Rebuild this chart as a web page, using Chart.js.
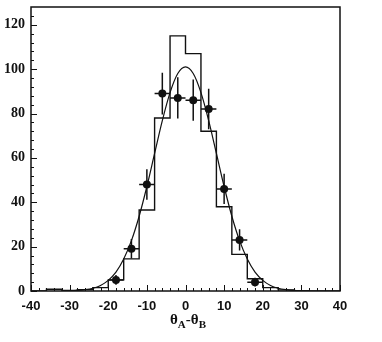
<!DOCTYPE html>
<html>
<head>
<meta charset="utf-8">
<script src="https://cdn.jsdelivr.net/npm/chart.js@4.4.0/dist/chart.umd.min.js"></script>
<style>
html, body { margin: 0; padding: 0; background: #fff; }
#wrap { position: relative; width: 382px; height: 342px; }
#xlabel {
    position: absolute; left: 138px; width: 100px; top: 311px;
    text-align: center; font: bold 15px "Liberation Serif", serif; color: #111;
}
#xlabel sub { font-size: 11px; }
</style>
</head>
<body>
<div id="wrap">
<canvas id="myChart" width="382" height="342"></canvas>
<div id="xlabel">&theta;<sub>A</sub>-&theta;<sub>B</sub></div>
</div>
<script>
// histogram: bin edges and contents
var binEdges = [-40, -36, -32, -28, -24, -20, -16, -12, -8, -4, 0, 4, 8, 12, 16, 20, 24, 28, 32, 36, 40];
var binCounts = [0, 0.8, 0.3, 0.6, 1.5, 5, 14.5, 36.5, 78, 115, 107, 72, 38, 16.5, 5.5, 1.5, 0.5, 0, 0, 0];

// data points with error bars
var dataX = [-18, -14, -10, -6, -2, 2, 6, 10, 14, 18];
var dataY = [5, 19, 48, 89, 87, 86, 82, 46, 23, 4];
var dataXErr = [2, 2, 2, 2, 2, 2, 2, 2, 2, 2];
var dataYErr = [2.2, 4.4, 6.9, 9.4, 9.3, 9.3, 9.1, 6.8, 4.8, 2.0];

// fitted curve
var fitX = [-32, -30, -28, -26, -24, -22, -20, -18, -16, -14, -12, -10, -8, -6, -4, -2, 0,
            2, 4, 6, 8, 10, 12, 14, 16, 18, 20, 22, 24, 26, 28, 30, 32];
var fitY = [0.04, 0.1, 0.26, 0.6, 1.25, 2.5, 4.8, 8.5, 14.4, 22.7, 33.7, 47.1, 62.0, 76.8, 89.4, 98.0, 101,
            98.0, 89.4, 76.8, 62.0, 47.1, 33.7, 22.7, 14.4, 8.5, 4.8, 2.5, 1.25, 0.6, 0.26, 0.1, 0.04];

var xTicks = [-40, -30, -20, -10, 0, 10, 20, 30, 40];
var yTicks = [0, 20, 40, 60, 80, 100, 120];

var ink = "#111";

var histPoints = binEdges.map(function (e, i) {
    return { x: e, y: i < binCounts.length ? binCounts[i] : binCounts[binCounts.length - 1] };
});
var dataPoints = dataX.map(function (x, i) { return { x: x, y: dataY[i] }; });
var fitPoints = fitX.map(function (x, i) { return { x: x, y: fitY[i] }; });

var frameTicks = {
    id: "frameTicks",
    afterDatasetsDraw: function (chart) {
        var ctx = chart.ctx, xs = chart.scales.x, ys = chart.scales.y;
        ctx.save();
        ctx.strokeStyle = ink;
        ctx.lineWidth = 1.5;
        for (var i = 0; i < dataX.length; i++) {
            var px = xs.getPixelForValue(dataX[i]), py = ys.getPixelForValue(dataY[i]);
            ctx.beginPath();
            ctx.moveTo(xs.getPixelForValue(dataX[i] - dataXErr[i]), py);
            ctx.lineTo(xs.getPixelForValue(dataX[i] + dataXErr[i]), py);
            ctx.moveTo(px, ys.getPixelForValue(dataY[i] - dataYErr[i]));
            ctx.lineTo(px, ys.getPixelForValue(dataY[i] + dataYErr[i]));
            ctx.stroke();
        }
        ctx.restore();
    },
    afterDraw: function (chart) {
        var ctx = chart.ctx, a = chart.chartArea, xs = chart.scales.x, ys = chart.scales.y;
        ctx.save();
        ctx.strokeStyle = ink;
        ctx.lineWidth = 1.5;
        ctx.strokeRect(a.left, a.top, a.right - a.left, a.bottom - a.top);
        ctx.lineWidth = 1;
        ctx.beginPath();
        for (var v = -40; v <= 40; v += 2) {
            var px = Math.round(xs.getPixelForValue(v)) + 0.5;
            var len = v % 10 === 0 ? 6 : 3;
            ctx.moveTo(px, a.bottom);
            ctx.lineTo(px, a.bottom - len);
        }
        for (var w = 0; w <= 124; w += 4) {
            var py = Math.round(ys.getPixelForValue(w)) + 0.5;
            var l2 = w % 20 === 0 ? 6 : 3;
            ctx.moveTo(a.left, py);
            ctx.lineTo(a.left + l2, py);
        }
        ctx.stroke();
        ctx.restore();
    }
};

new Chart("myChart", {
    type: "scatter",
    data: {
        datasets: [{
            data: histPoints,
            showLine: true,
            stepped: "before",
            borderColor: ink,
            borderWidth: 1.4,
            pointRadius: 0,
            fill: false
        }, {
            data: fitPoints,
            showLine: true,
            cubicInterpolationMode: "monotone",
            borderColor: ink,
            borderWidth: 1.2,
            pointRadius: 0,
            fill: false
        }, {
            data: dataPoints,
            showLine: false,
            pointRadius: 4,
            pointBackgroundColor: ink,
            pointBorderColor: ink,
            pointBorderWidth: 0
        }]
    },
    options: {
        responsive: false,
        animation: false,
        layout: { padding: { top: 7, right: 42, left: 0, bottom: 0 } },
        plugins: {
            legend: { display: false },
            tooltip: { enabled: false }
        },
        scales: {
            x: {
                type: "linear",
                min: -40,
                max: 40,
                afterBuildTicks: function (s) { s.ticks = xTicks.map(function (v) { return { value: v }; }); },
                afterFit: function (s) { s.height = 51; s.paddingLeft = 0; s.paddingRight = 0; },
                grid: { display: false, drawTicks: false, tickLength: 0 },
                border: { display: false },
                ticks: {
                    padding: 8,
                    color: ink,
                    maxRotation: 0,
                    font: { family: "Liberation Sans", size: 13, weight: "bold" }
                }
            },
            y: {
                type: "linear",
                min: 0,
                max: 128,
                afterBuildTicks: function (s) { s.ticks = yTicks.map(function (v) { return { value: v }; }); },
                afterFit: function (s) { s.width = 31; s.paddingTop = 0; s.paddingBottom = 0; },
                grid: { display: false, drawTicks: false, tickLength: 0 },
                border: { display: false },
                ticks: {
                    padding: 6,
                    color: ink,
                    font: { family: "Liberation Serif", size: 14, weight: "bold" }
                }
            }
        }
    },
    plugins: [frameTicks]
});
</script>
</body>
</html>
